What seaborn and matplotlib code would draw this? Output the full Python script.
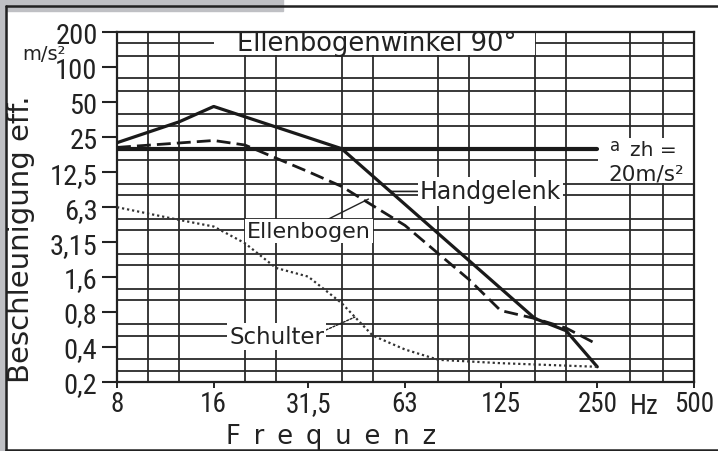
import numpy as np
import pandas as pd
import matplotlib
matplotlib.use("Agg")
import matplotlib.pyplot as plt
import seaborn as sns
from matplotlib import font_manager
from matplotlib.patches import Rectangle
from matplotlib.lines import Line2D
from matplotlib.ticker import FixedLocator, FixedFormatter, NullFormatter

# ---------------- data ----------------
freq_hand = [8, 12.5, 16, 40, 160, 200, 250]
hand = [22.5, 34, 46, 20, 0.70, 0.55, 0.27]

freq_ell = [8, 16, 20, 31.5, 40, 63, 100, 125, 160, 200, 250]
ell = [20.5, 23.5, 21.5, 12.7, 9.5, 4.4, 1.5, 0.82, 0.70, 0.58, 0.42]

freq_sch = [8, 12.5, 16, 20, 25, 31.5, 40, 50, 63, 80, 125, 250]
sch = [6.3, 4.9, 4.3, 3.1, 1.9, 1.6, 0.95, 0.5, 0.38, 0.31, 0.29, 0.27]

freq_azh = [8, 250]
azh = [20, 20]

x_ticks = [8, 16, 31.5, 63, 125, 250, 500]
x_labels = ["8", "16", "31,5", "63", "125", "250", "500"]
y_ticks = [0.2, 0.4, 0.8, 1.6, 3.15, 6.3, 12.5, 25, 50, 100, 200]
y_labels = ["0,2", "0,4", "0,8", "1,6", "3,15", "6,3", "12,5", "25", "50", "100", "200"]

# preferred-number (R10) grid
R10 = [1, 1.25, 1.6, 2, 2.5, 3.15, 4, 5, 6.3, 8]
def r10_between(lo, hi):
    out = []
    for e in range(-2, 4):
        for r in R10:
            v = round(r * 10 ** e, 6)
            if lo - 1e-9 <= v <= hi + 1e-9:
                out.append(v)
    return out

# ---------------- fonts ----------------
sns.set_theme(style="white")
plt.rcParams["font.family"] = ["DejaVu Sans"]
ttf = font_manager.fontManager.ttflist
NARROW = dict(family="DejaVu Sans")
TICK_SIZE = 14.5
XTICK_SIZE = 14
found = None
for key in ("Liberation Sans Narrow", "Roboto Condensed", "Open Sans Condensed",
            "Noto Sans Condensed", "Noto Sans SemiCondensed", "Narrow", "Condensed"):
    for f in ttf:
        if key in f.name:
            found = f.name
            break
    if found:
        break
if found:
    NARROW = dict(family=found)
    TICK_SIZE = 20.5
    XTICK_SIZE = 19.5
else:
    for f in ttf:
        if f.name == "DejaVu Sans" and "condensed" in str(f.stretch).lower():
            NARROW = dict(family="DejaVu Sans", fontstretch="condensed")
            TICK_SIZE = 16
            XTICK_SIZE = 15.5
            break

W, H = 718, 452
fig = plt.figure(figsize=(W / 100, H / 100), dpi=100)
fig.patch.set_facecolor("white")

def fx(px):
    return px / W

def fy(py):
    return 1 - py / H

# scan border
grey = "#bfc0c4"
fig.add_artist(Rectangle((0, 0), fx(6), 1, transform=fig.transFigure, color=grey, zorder=0))
fig.add_artist(Rectangle((0, fy(11.5)), fx(283), 11.5 / H, transform=fig.transFigure, color=grey, zorder=0))
fig.add_artist(Line2D([fx(6), 1], [fy(7.3), fy(7.3)], transform=fig.transFigure, color="#222", lw=1.8))
fig.add_artist(Line2D([fx(6), fx(6)], [fy(7.3), fy(450.5)], transform=fig.transFigure, color="#222", lw=1.8))
fig.add_artist(Line2D([fx(6), 1], [fy(450.5), fy(450.5)], transform=fig.transFigure, color="#222", lw=1.8))

ax = fig.add_axes([fx(117), fy(383), fx(694) - fx(117), (383 - 33) / H])
ax.set_facecolor("white")
ax.set_xscale("log")
ax.set_yscale("log")
ax.set_xlim(8, 500)
ax.set_ylim(0.2, 200)

# grid
ax.xaxis.set_minor_locator(FixedLocator(r10_between(8, 500)))
ax.yaxis.set_minor_locator(FixedLocator(r10_between(0.2, 200)))
ax.xaxis.set_minor_formatter(NullFormatter())
ax.yaxis.set_minor_formatter(NullFormatter())
ax.set_axisbelow(True)
ax.grid(which="minor", color="#2a2a2a", lw=1.3)
ax.grid(which="major", visible=False)

ax.xaxis.set_major_locator(FixedLocator(x_ticks))
ax.xaxis.set_major_formatter(FixedFormatter(x_labels))
ax.yaxis.set_major_locator(FixedLocator(y_ticks))
ax.yaxis.set_major_formatter(FixedFormatter(y_labels))
ax.tick_params(axis="both", which="minor", length=0)
ax.tick_params(axis="x", which="major", direction="out", length=4, width=1.4,
               color="#222", pad=2, labelsize=XTICK_SIZE, bottom=True)
ax.tick_params(axis="y", which="major", direction="out", length=11, width=1.5,
               color="#222", pad=3, labelsize=TICK_SIZE, left=True)
for lab in ax.get_xticklabels() + ax.get_yticklabels():
    lab.set_family(NARROW["family"])
    if "fontstretch" in NARROW:
        lab.set_fontstretch(NARROW["fontstretch"])
    lab.set_color("#222")
for s in ax.spines.values():
    s.set_color("#222")
    s.set_linewidth(1.6)

# white boxes covering grid
ax.add_patch(Rectangle((16, 126), 160 - 16, 200 - 126, facecolor="white",
                       edgecolor="none", zorder=1.5))
ax.add_patch(Rectangle((252, 10.1), 500 - 252, 24.7 - 10.1, facecolor="white",
                       edgecolor="none", zorder=1.5))

# data lines
df_h = pd.DataFrame({"f": freq_hand, "a": hand})
df_e = pd.DataFrame({"f": freq_ell, "a": ell})
df_s = pd.DataFrame({"f": freq_sch, "a": sch})
df_z = pd.DataFrame({"f": freq_azh, "a": azh})
sns.lineplot(data=df_z, x="f", y="a", ax=ax, color="#1a1a1a", lw=3.0, sort=False, zorder=4)
sns.lineplot(data=df_h, x="f", y="a", ax=ax, color="#1a1a1a", lw=2.3, sort=False, zorder=5)
sns.lineplot(data=df_e, x="f", y="a", ax=ax, color="#1a1a1a", lw=2.0, sort=False,
             linestyle=(0, (5, 2.2)), zorder=5)
sns.lineplot(data=df_s, x="f", y="a", ax=ax, color="#333333", lw=1.6, sort=False,
             linestyle=(0, (1, 1.3)), zorder=5)
ax.set_xlabel("")
ax.set_ylabel("")
if ax.get_legend() is not None:
    ax.get_legend().remove()

# annotations
lab_font = dict(family="DejaVu Sans", fontsize=16, color="#222")
box = dict(facecolor="white", edgecolor="none", pad=1.5)
ax.text(51.5, 160, "Ellenbogenwinkel 90°", ha="center", va="center", zorder=3,
        **dict(lab_font, fontsize=18.5))
ax.annotate("Handgelenk", xy=(57, 8.6), xytext=(70, 8.6), ha="left", va="center",
            bbox=box, zorder=3, **dict(lab_font, fontsize=17),
            arrowprops=dict(arrowstyle="-", color="#222", lw=1.2, shrinkA=0, shrinkB=0,
                            relpos=(0.0, 0.5)))
ax.annotate("Ellenbogen", xy=(48.5, 7.4), xytext=(31.6, 3.9), ha="center", va="center",
            bbox=box, zorder=3, **lab_font,
            arrowprops=dict(arrowstyle="-", color="#222", lw=1.0, shrinkA=0, shrinkB=0,
                            relpos=(0.62, 1.0)))
ax.annotate("Schulter", xy=(44, 0.72), xytext=(25.1, 0.49), ha="center", va="center",
            bbox=box, zorder=3, **dict(lab_font, fontsize=16.5),
            arrowprops=dict(arrowstyle="-", color="#222", lw=1.0, shrinkA=0, shrinkB=0,
                            relpos=(1.0, 0.75), linestyle=(0, (1.5, 1.2))))
ax.text(283, 21.3, "a", ha="center", va="center", zorder=3, **dict(lab_font, fontsize=12))
ax.text(316, 19.5, "zh =", ha="left", va="center", zorder=3, **dict(lab_font, fontsize=14.5))
ax.text(356, 12.2, "20m/s²", ha="center", va="center", zorder=3, **dict(lab_font, fontsize=15.5))

# "Hz" between 250 and 500
ax.text(350, -0.03, "Hz", transform=ax.get_xaxis_transform(), ha="center", va="top",
        fontsize=XTICK_SIZE, color="#222", **NARROW)

# axis titles
fig.text(fx(44), fy(55), "m/s²", ha="center", va="center", fontsize=14,
         family="DejaVu Sans", color="#222")
fig.text(fx(21), fy(239), "Beschleunigung eff.", ha="center", va="center", rotation=90,
         fontsize=21, family="DejaVu Sans", color="#222")
fig.text(fx(331), fy(450.5), "F\u2002r\u2002e\u2002q\u2002u\u2002e\u2002n\u2002z",
         ha="center", va="bottom", fontsize=18.5, family="DejaVu Sans", color="#222")

fig.savefig("out.png", dpi=100, facecolor="white")
